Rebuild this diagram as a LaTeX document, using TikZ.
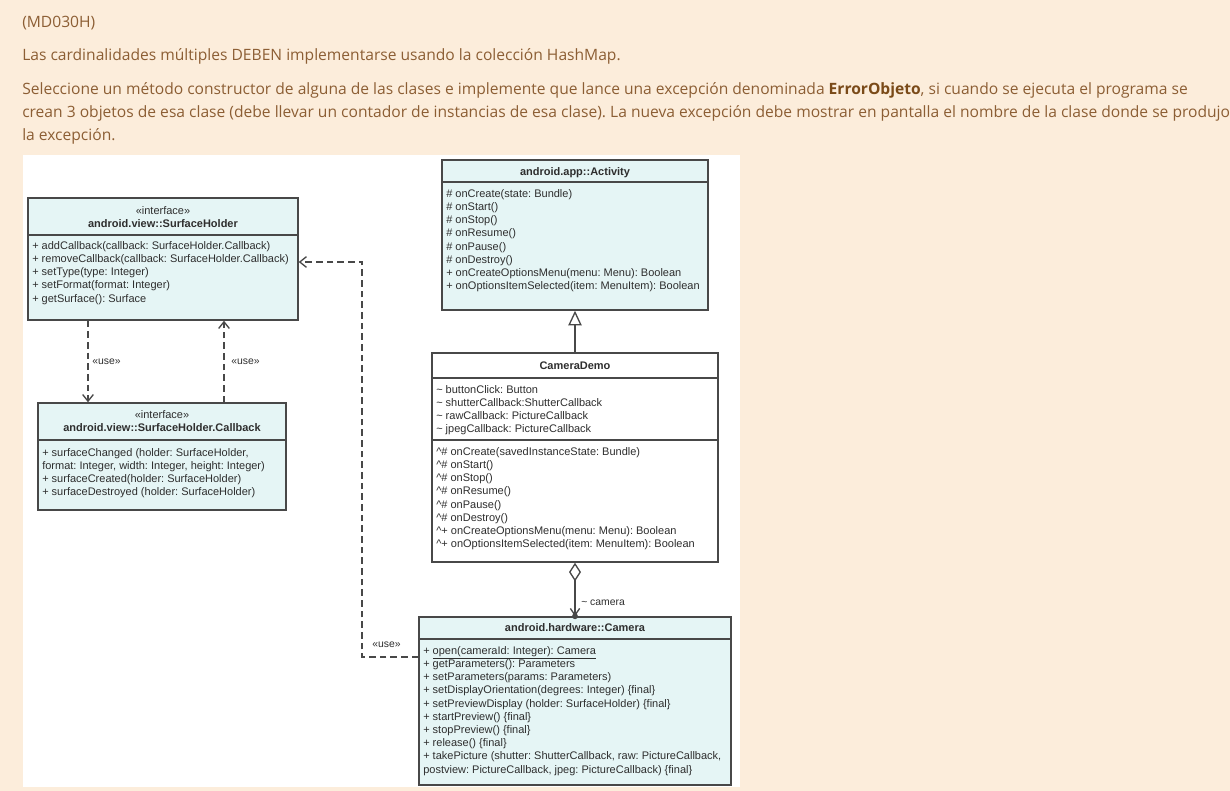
\documentclass[tikz,border=0pt]{standalone}
\usepackage{fontspec}
\setmainfont{Open Sans}
\newfontfamily\umlfont{Liberation Sans}
\usetikzlibrary{arrows.meta,fit}
\definecolor{pagebg}{HTML}{FCEDDB}
\definecolor{pageink}{HTML}{8C5E34}
\definecolor{pagebold}{HTML}{7A4A18}
\definecolor{umlline}{HTML}{484848}
\definecolor{umlfill}{HTML}{E5F5F5}
\definecolor{umlink}{HTML}{2E2E2E}
\frenchspacing

\begin{document}
\begin{tikzpicture}[
  x=0.75pt,
  y=-0.75pt,
  every node/.style={inner sep=0pt},
  pagetext/.style={anchor=base west, text=pageink,
    font=\fontsize{11.7}{14}\selectfont},
  classbox/.style={draw=umlline, line width=1.1pt, fill=umlfill, inner sep=0pt},
  classname/.style={anchor=north, align=center, text=umlink,
    font=\umlfont\fontsize{8.25}{9.9}\selectfont},
  member/.style={anchor=north west, align=left, text=umlink,
    font=\umlfont\fontsize{8.25}{9.9}\selectfont},
  sepline/.style={draw=umlline, line width=0.9pt},
  usedep/.style={draw=umlline, line width=1pt, dash pattern=on 5pt off 3pt,
    -{Straight Barb[length=5pt, width=8pt]}},
  uselabel/.style={anchor=west, text=umlink, font=\umlfont\fontsize{7.8}{9}\selectfont}
]
  \useasboundingbox (0,0) rectangle (1230,791);

  % ---- page and the task text --------------------------------------------
  \fill[pagebg] (0,0) rectangle (1230,791);
  \fill[white] (23,155) rectangle (740,787);

  \node[pagetext] (code) at (22,28) {(MD030H)};
  \node[pagetext] (rule) at (22,61)
    {Las cardinalidades múltiples DEBEN implementarse usando la colección HashMap.};
  \node[pagetext] (task1) at (22,95)
    {Seleccione un método constructor de alguna de las clases e implemente que lance una excepción denominada \textcolor{pagebold}{\bfseries ErrorObjeto}, si cuando se ejecuta el programa se};
  \node[pagetext] (task2) at (22,118)
    {crean 3 objetos de esa clase (debe llevar un contador de instancias de esa clase). La nueva excepción debe mostrar en pantalla el nombre de la clase donde se produjo};
  \node[pagetext] (task3) at (22,141) {la excepción.};

  % ---- android.view::SurfaceHolder ---------------------------------------
  \node[classbox, fit={(28,198) (298,320)}] (holder) {};
  \node[classname] (holder-name) at (163,206)
    {«interface»\\\textbf{android.view::SurfaceHolder}};
  \draw[sepline] (holder.west |- 0,235) -- (holder.east |- 0,235);
  \node[member] (holder-ops) at (32,241)
    {+ addCallback(callback: SurfaceHolder.Callback)\\
     + removeCallback(callback: SurfaceHolder.Callback)\\
     + setType(type: Integer)\\
     + setFormat(format: Integer)\\
     + getSurface(): Surface};

  % ---- android.view::SurfaceHolder.Callback ------------------------------
  \node[classbox, fit={(38,403) (286,510)}] (callback) {};
  \node[classname] (callback-name) at (162,410)
    {«interface»\\\textbf{android.view::SurfaceHolder.Callback}};
  \draw[sepline] (callback.west |- 0,440) -- (callback.east |- 0,440);
  \node[member] (callback-ops) at (42,448)
    {+ surfaceChanged (holder: SurfaceHolder,\\
     format: Integer, width: Integer, height: Integer)\\
     + surfaceCreated(holder: SurfaceHolder)\\
     + surfaceDestroyed (holder: SurfaceHolder)};

  % ---- android.app::Activity ---------------------------------------------
  \node[classbox, fit={(442,160) (708,310)}] (activity) {};
  \node[classname] (activity-name) at (575,167)
    {\textbf{android.app::Activity}};
  \draw[sepline] (activity.west |- 0,182) -- (activity.east |- 0,182);
  \node[member] (activity-ops) at (446,189)
    {\# onCreate(state: Bundle)\\
     \# onStart()\\
     \# onStop()\\
     \# onResume()\\
     \# onPause()\\
     \# onDestroy()\\
     + onCreateOptionsMenu(menu: Menu): Boolean\\
     + onOptionsItemSelected(item: MenuItem): Boolean};

  % ---- CameraDemo --------------------------------------------------------
  \node[classbox, fill=white, fit={(432,353) (718,562)}] (demo) {};
  \node[classname] (demo-name) at (575,362) {\textbf{CameraDemo}};
  \draw[sepline] (demo.west |- 0,378) -- (demo.east |- 0,378);
  \node[member] (demo-attrs) at (436,385)
    {\textasciitilde{} buttonClick: Button\\
     \textasciitilde{} shutterCallback:ShutterCallback\\
     \textasciitilde{} rawCallback: PictureCallback\\
     \textasciitilde{} jpegCallback: PictureCallback};
  \draw[sepline] (demo.west |- 0,440) -- (demo.east |- 0,440);
  \node[member] (demo-ops) at (436,447)
    {\textasciicircum\# onCreate(savedInstanceState: Bundle)\\
     \textasciicircum\# onStart()\\
     \textasciicircum\# onStop()\\
     \textasciicircum\# onResume()\\
     \textasciicircum\# onPause()\\
     \textasciicircum\# onDestroy()\\
     \textasciicircum+ onCreateOptionsMenu(menu: Menu): Boolean\\
     \textasciicircum+ onOptionsItemSelected(item: MenuItem): Boolean};

  % ---- android.hardware::Camera ------------------------------------------
  \node[classbox, fit={(419,617) (731,785)}] (camera) {};
  \node[classname] (camera-name) at (575,623)
    {\textbf{android.hardware::Camera}};
  \draw[sepline] (camera.west |- 0,639) -- (camera.east |- 0,639);
  \node[member] (camera-ops) at (423,646)
    {+ \underline{open(cameraId: Integer): Camera}\\
     + getParameters(): Parameters\\
     + setParameters(params: Parameters)\\
     + setDisplayOrientation(degrees: Integer) \{final\}\\
     + setPreviewDisplay (holder: SurfaceHolder) \{final\}\\
     + startPreview() \{final\}\\
     + stopPreview() \{final\}\\
     + release() \{final\}\\
     + takePicture (shutter: ShutterCallback, raw: PictureCallback,\\
     postview: PictureCallback, jpeg: PictureCallback) \{final\}};

  % ---- relations ---------------------------------------------------------
  \draw[usedep] (holder.south -| 88,0) -- (callback.north -| 88,0);
  \node[uselabel] (use-down) at (92,362) {«use»};

  \draw[usedep] (callback.north -| 224,0) -- (holder.south -| 224,0);
  \node[uselabel] (use-up) at (231,362) {«use»};

  \coordinate (bend) at (362,262);
  \draw[usedep] (camera.west |- 0,657) -| (bend) -- (holder.east |- bend);
  \node[uselabel] (use-camera) at (372,645) {«use»};

  \draw[umlline, line width=1pt,
        -{Triangle[open, fill=white, length=11pt, width=10pt]}]
    (demo.north) -- (activity.south);

  \draw[umlline, line width=1pt,
        {Diamond[open, fill=white, length=14pt, width=9pt]}-{Straight Barb[length=5pt, width=7pt]}]
    (demo.south) -- (camera.north);
  \fill[umlline] (camera.north) circle (2.2pt);
  \node[uselabel] (role) at (581,603) {\textasciitilde{} camera};
\end{tikzpicture}
\end{document}
